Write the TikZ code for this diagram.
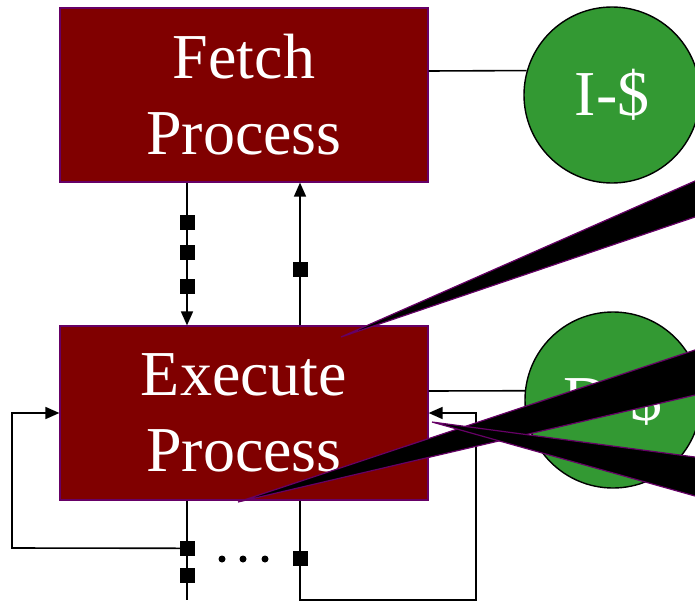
\documentclass[tikz,border=0pt]{standalone}
\usepackage{xcolor}
\usepackage{fontspec}
\setmainfont{Liberation Serif}
\usepackage{tikz}
\usetikzlibrary{arrows.meta}

\definecolor{procred}{HTML}{800000}
\definecolor{cachegreen}{HTML}{339933}
\definecolor{edgepurple}{HTML}{660066}

\begin{document}
\begin{tikzpicture}
	[x=1pt,y=-1pt,line width=1.6pt,
	 proc/.style={draw=edgepurple,line width=1.2pt,fill=procred,text=white,minimum width=368pt,minimum height=174pt,inner sep=0pt,align=center,font=\fontsize{64}{76}\selectfont},
	 cache/.style={circle,draw=black,line width=1.4pt,fill=cachegreen,text=white,minimum size=176pt,inner sep=0pt,font=\fontsize{64}{76}\selectfont},
	 latch/.style={fill=black,minimum size=15pt,inner sep=0pt},
	 arr/.style={-{Triangle[length=14pt,width=12pt]}},
	 callout/.style={fill=black,draw=edgepurple,line width=1.2pt}]
	\useasboundingbox (0,0) rectangle (695,602);
	\clip (0,0) rectangle (695,602);
	\node[proc] (fetch) at (244,95) {Fetch\\Process};
	\node[proc] (exec) at (244,413) {Execute\\Process};
	\node[cache] (icache) at (612,95) {I-\$};
	\node[cache] (dcache) at (613,400) {D-\$};
	\coordinate (lft) at (187,0);
	\coordinate (rgt) at (300,0);
	\coordinate (bot) at (0,600);
	\coordinate (loop) at (476,413);
	\coordinate (back) at (12,548);
	% caches
	\draw ([yshift=24pt]fetch.east) -- (icache.164);
	\draw ([yshift=22pt]exec.east) -- (dcache.174);
	% fetch <-> execute
	\draw[arr] (fetch.south -| lft) -- node[latch,pos=0.28]{} node[latch,pos=0.49]{} node[latch,pos=0.73]{} (exec.north -| lft);
	\draw[arr] (exec.north -| rgt) -- node[latch,pos=0.39]{} (fetch.south -| rgt);
	% execute feedback
	\draw (exec.south -| lft) -- node[latch,pos=0.48] (s1) {} node[latch,pos=0.75]{} (lft |- bot);
	\draw[arr] (s1.center) -- (back) |- (exec.west);
	\draw[arr] (exec.south -| rgt) -- node[latch,pos=0.58]{} (rgt |- bot) -| (loop) -- (exec.east);
	\foreach \x in {222,243,265} \fill (\x,559) circle (3.5pt);
	% callout pointers
	\filldraw[callout] (341,337) -- (700,178.8) -- (700,215.3) -- cycle;
	\filldraw[callout] (238,502) -- (700,348.3) -- (700,393.9) -- cycle;
	\filldraw[callout] (432,422) -- (700,457.7) -- (700,497.4) -- cycle;
\end{tikzpicture}
\end{document}
